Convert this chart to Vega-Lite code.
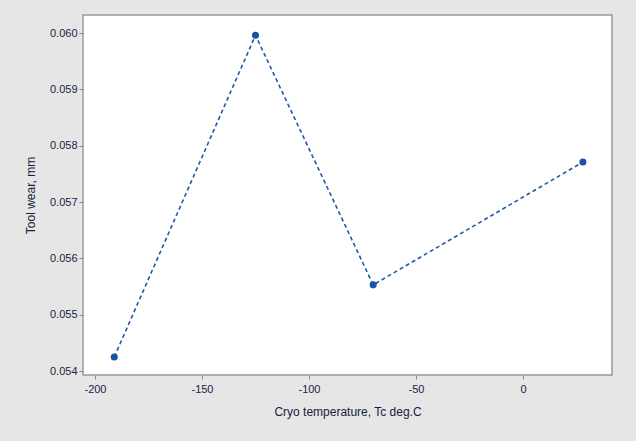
{
  "$schema": "https://vega.github.io/schema/vega-lite/v6.json",
  "autosize": {"type": "none"},
  "width": 529,
  "height": 360,
  "padding": {"left": 83, "top": 15, "right": 24, "bottom": 66},
  "background": "#e6e6e6",
  "config": {
    "view": {"fill": "white", "stroke": "#9a9a9a", "strokeWidth": 1.5},
    "axis": {
      "grid": false,
      "domain": false,
      "tickColor": "#8a8a8a",
      "tickSize": 4,
      "labelFont": "Arial",
      "labelFontSize": 11,
      "labelColor": "#222244",
      "titleFont": "Arial",
      "titleFontSize": 12,
      "titleFontWeight": "normal",
      "titleColor": "#1a1a3a"
    }
  },
  "data": {
    "values": [
      {"temp": -191, "wear": 0.05425},
      {"temp": -125, "wear": 0.05996},
      {"temp": -70, "wear": 0.05553},
      {"temp": 28, "wear": 0.05771}
    ]
  },
  "layer": [
    {
      "mark": {"type": "line", "color": "#1f5aa8", "strokeWidth": 1.6, "strokeDash": [4, 3]},
      "encoding": {
        "x": {"field": "temp", "type": "quantitative"},
        "y": {"field": "wear", "type": "quantitative"}
      }
    },
    {
      "mark": {"type": "point", "filled": true, "color": "#1a52a5", "size": 50, "opacity": 1},
      "encoding": {
        "x": {
          "field": "temp",
          "type": "quantitative",
          "scale": {"domain": [-205.6, 41.6], "nice": false, "zero": false},
          "axis": {"values": [-200, -150, -100, -50, 0], "labelExpr": "'' + datum.value", "title": "Cryo temperature, Tc deg.C", "labelPadding": 4, "titlePadding": 12}
        },
        "y": {
          "field": "wear",
          "type": "quantitative",
          "scale": {"domain": [0.05393, 0.06032], "nice": false, "zero": false},
          "axis": {"values": [0.054, 0.055, 0.056, 0.057, 0.058, 0.059, 0.06], "format": ".3f", "title": "Tool wear, mm", "labelPadding": 2, "titlePadding": 12}
        }
      }
    }
  ]
}
